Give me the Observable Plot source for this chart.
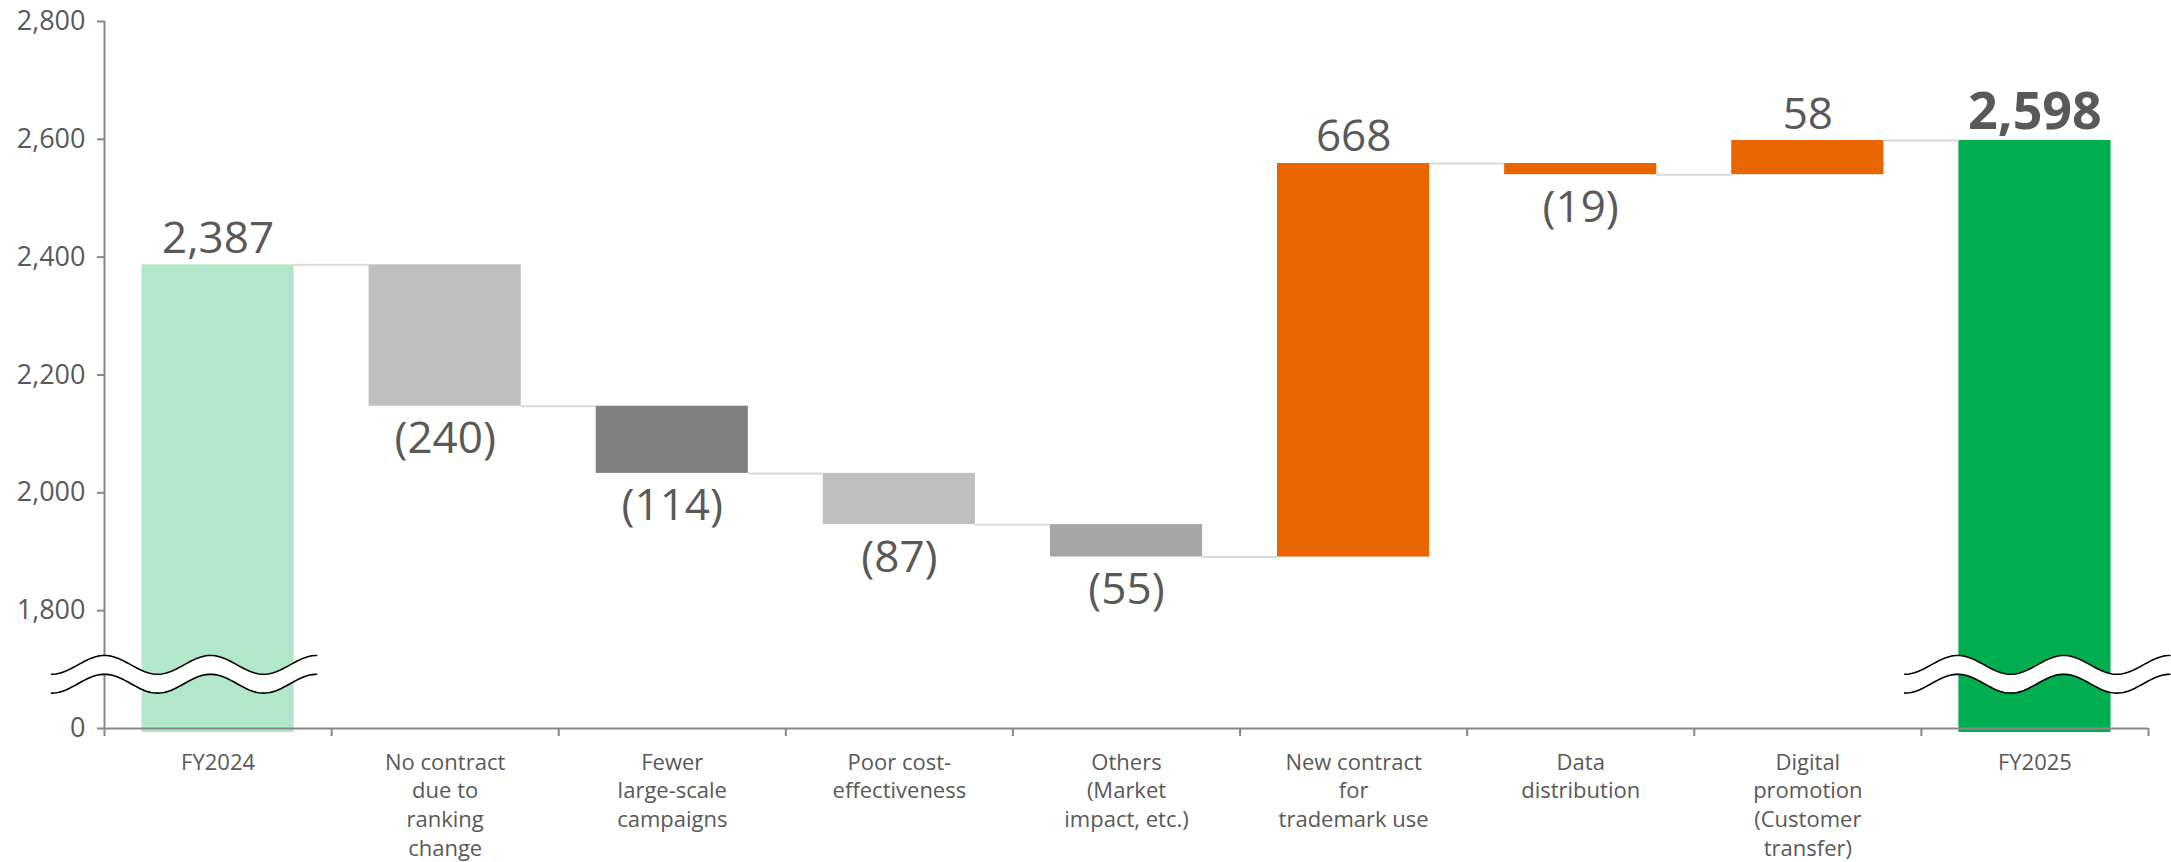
<!DOCTYPE html>
<html>
<head>
<meta charset="utf-8">
<script src="https://cdn.jsdelivr.net/npm/d3@7"></script>
<script src="https://cdn.jsdelivr.net/npm/@observablehq/plot@0.6"></script>
<style>
  body { margin: 0; background: #fff; }
  #chart { width: 2171px; height: 862px; }
</style>
</head>
<body>
<div id="chart"></div>
<script>
// ---- data ----
const categories = [
  "FY2024",
  "No contract\ndue to\nranking\nchange",
  "Fewer\nlarge-scale\ncampaigns",
  "Poor cost-\neffectiveness",
  "Others\n(Market\nimpact, etc.)",
  "New contract\nfor\ntrademark use",
  "Data\ndistribution",
  "Digital\npromotion\n(Customer\ntransfer)",
  "FY2025"
];
const values = [2387, -240, -114, -87, -55, 668, -19, 58, 2598];
const kinds = ["total", "delta", "delta", "delta", "delta", "delta", "delta", "delta", "total"];
const barColors = ["#b3e7c9", "#bfbfbf", "#808080", "#bfbfbf", "#a6a6a6", "#e96500", "#e96500", "#e96500", "#00ae50"];
const yTicks = [0, 1800, 2000, 2200, 2400, 2600, 2800];

// ---- broken axis helpers: 0 is drawn one step below 1,800 ----
const brk = v => (v < 1800 ? 1600 + v * (200 / 1800) : v);
const unbrk = v => (v < 1800 ? (v - 1600) * (1800 / 200) : v);

// ---- waterfall rows ----
let running = 0;
const rows = values.map((v, i) => {
  let start, end;
  if (kinds[i] === "total") { start = 0; end = v; running = v; }
  else { start = running; end = running + v; running = end; }
  const label = kinds[i] === "total" ? d3.format(",")(v) : (v < 0 ? `(${d3.format(",")(-v)})` : d3.format(",")(v));
  return {i, v, kind: kinds[i], start, end, top: Math.max(start, end), bottom: Math.min(start, end), label, color: barColors[i]};
});

// ---- axis-break decoration (wavy double line) ----
const breakPeaks = [0, 8.16];
const P = 0.467;
const waves = breakPeaks.map(peak => d3.range(0, 121).map(k => {
  const x = peak - P / 2 + k * (2.5 * P) / 120;
  const c = Math.cos(2 * Math.PI * (x - peak) / P);
  return {x, up: 1708 + 16 * c, lo: 1676 + 16 * c};
}));

const axisGray = "#878787";
const textGray = "#595959";
const pad = 0.165;

const chart = Plot.plot({
  width: 2171,
  height: 862,
  marginTop: 21,
  marginBottom: 134,
  marginLeft: 104,
  marginRight: 23,
  style: {fontFamily: "'Open Sans', 'Noto Sans', sans-serif", background: "white", overflow: "visible"},
  x: {type: "linear", domain: [0, categories.length], axis: null},
  y: {domain: [brk(0), 2800], axis: null},
  marks: [
    // bars
    Plot.rectY(rows.filter(d => d.kind === "delta"), {
      x1: d => d.i + pad, x2: d => d.i + 1 - pad,
      y1: d => brk(d.start), y2: d => brk(d.end), fill: d => d.color
    }),
    Plot.rectY(rows.filter(d => d.kind === "total"), {
      x1: d => d.i + pad, x2: d => d.i + 1 - pad,
      y1: d => brk(d.start), y2: d => brk(d.end), fill: d => d.color, insetBottom: -4
    }),
    // connectors
    Plot.ruleY(rows.slice(0, -1), {
      y: d => brk(d.end), x1: d => d.i + 1 - pad, x2: d => d.i + 1 + pad,
      stroke: "#d9d9d9", strokeWidth: 2
    }),
    // axes lines and ticks
    Plot.ruleY([brk(0)], {stroke: axisGray, strokeWidth: 2}),
    Plot.ruleX([0], {y1: brk(0), y2: 2800, stroke: axisGray, strokeWidth: 2}),
    Plot.axisX({ticks: d3.range(categories.length + 1), tickSize: 8, tickFormat: () => "", stroke: axisGray, strokeWidth: 2, label: null}),
    Plot.axisY({ticks: yTicks.map(brk), tickSize: 7, tickPadding: 12, tickFormat: v => d3.format(",")(Math.round(unbrk(v))),
      fontSize: 27, color: textGray, stroke: axisGray, strokeWidth: 2, label: null}),
    // axis breaks
    ...waves.map(w => Plot.areaY(w, {x: "x", y1: "lo", y2: "up", fill: "white"})),
    ...waves.map(w => Plot.line(w, {x: "x", y: "up", stroke: "black", strokeWidth: 1.6})),
    ...waves.map(w => Plot.line(w, {x: "x", y: "lo", stroke: "black", strokeWidth: 1.6})),
    // value labels
    Plot.text(rows.filter(d => d.v >= 0 && d.i !== rows.length - 1), {
      x: d => d.i + 0.5, y: d => brk(d.top), text: "label", lineAnchor: "bottom", dy: -12,
      fontSize: 44, fill: textGray
    }),
    Plot.text(rows.filter(d => d.v < 0), {
      x: d => d.i + 0.5, y: d => brk(d.bottom), text: "label", lineAnchor: "bottom", dy: 47,
      fontSize: 44, fill: textGray
    }),
    Plot.text(rows.filter(d => d.i === rows.length - 1), {
      x: d => d.i + 0.5, y: d => brk(d.top), text: "label", lineAnchor: "bottom", dy: -12,
      fontSize: 52, fontWeight: "bold", fill: textGray
    }),
    // category labels
    Plot.text(categories, {
      x: (d, i) => i + 0.5, frameAnchor: "bottom", text: d => d, lineAnchor: "top", dy: 21,
      fontSize: 22, lineHeight: 1.3, fill: textGray
    })
  ]
});
document.getElementById("chart").appendChild(chart);
</script>
</body>
</html>
